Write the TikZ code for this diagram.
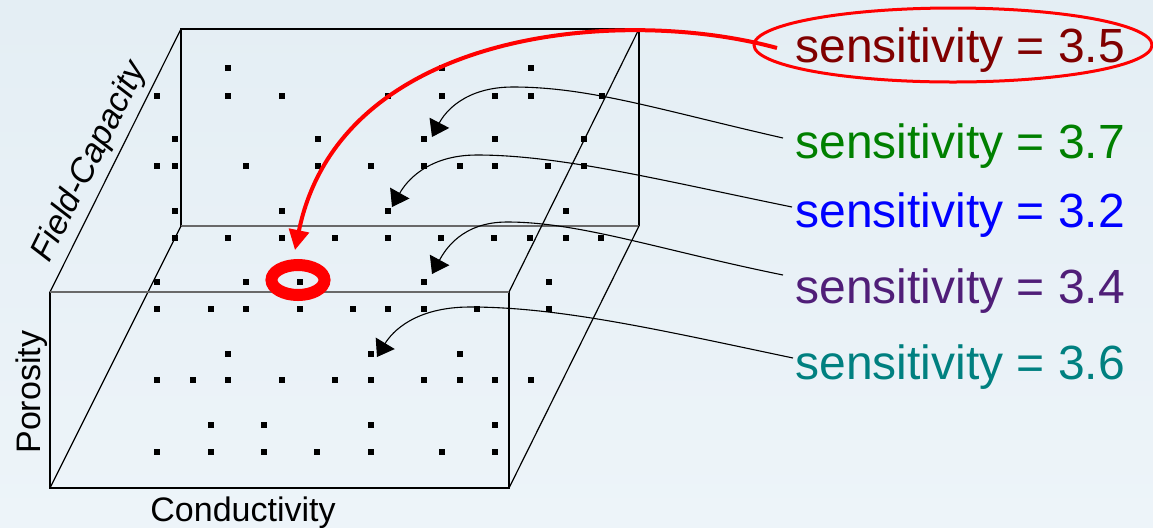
\documentclass[tikz,border=0pt]{standalone}
\usepackage{fontspec}
\setmainfont{Liberation Sans}
\usetikzlibrary{arrows.meta}
\definecolor{bgtop}{RGB}{228,238,244}
\definecolor{bgbot}{RGB}{237,244,249}
\definecolor{sdarkred}{RGB}{128,0,0}
\definecolor{sgreen}{RGB}{0,128,0}
\definecolor{sblue}{RGB}{0,0,255}
\definecolor{spurple}{RGB}{80,30,120}
\definecolor{steal}{RGB}{0,128,128}
\definecolor{edgegray}{RGB}{105,105,105}
\begin{document}
\begin{tikzpicture}[x=0.5pt,y=-0.5pt,
  edge/.style={black, line width=0.6pt},
  softedge/.style={edgegray, line width=1pt},
  lbl/.style={anchor=base west, inner sep=0pt, font=\fontsize{24}{28}\selectfont},
  axislbl/.style={inner sep=0pt, font=\fontsize{17}{20}\selectfont},
  pointer/.style={black, line width=0.55pt, -{Triangle[length=8pt,width=11pt]}},
  redpointer/.style={red, line width=2pt, -{Triangle[length=10pt,width=10pt]}},
  ring/.style={red, line width=6pt},
  halo/.style={red, line width=1.5pt}
]
% background and frame
\useasboundingbox (0,0) rectangle (1153,527);
\shade[top color=bgtop, bottom color=bgbot] (0,0) rectangle (1153,527);

% box corners
\coordinate (FTL) at (50,292);
\coordinate (FTR) at (509,292);
\coordinate (FBL) at (50,488);
\coordinate (FBR) at (509,488);
\coordinate (BTL) at (181,29);
\coordinate (BTR) at (639,29);
\coordinate (BBL) at (181,226);
\coordinate (BBR) at (639,226);

% back face
\draw[edge] (BBL) -- (BTL) -- (BTR) -- (BBR);
\draw[softedge] (BBL) -- (BBR);
% connecting edges
\draw[edge] (FTL) -- (BTL);
\draw[edge] (FBL) -- (BBL);
\draw[edge] (FTR) -- (BTR);
\draw[edge] (FBR) -- (BBR);
% front face
\draw[edge] (FTL) -- (FBL) -- (FBR) -- (FTR);
\draw[softedge] (FTL) -- (FTR);

% sample points
\foreach \y/\xs in {
  68/{228,442,531},
  96/{157,228,282,388,442,495,531,602},
  139/{175,318,424,495,584},
  166/{157,175,246,318,371,424,460,495,548,584},
  211/{175,282,388,566},
  238/{175,228,282,335,388,441,494,530,566,601},
  282/{157,246,300,424,549},
  309/{157,211,246,300,353,388,424,477,549},
  354/{228,371,460},
  380/{157,193,228,282,335,371,424,460,495,531},
  425/{211,264,371,495},
  452/{157,211,264,317,371,442,495}}
{
  \foreach \x in \xs {\fill[black] (\x-3.3,\y-3.3) rectangle (\x+3.3,\y+3.3);}
}

% labels
\node[lbl, text=sdarkred] (l35) at (795,62) {sensitivity = 3.5};
\node[lbl, text=sgreen]   (l37) at (795,158) {sensitivity = 3.7};
\node[lbl, text=sblue]    (l32) at (795,227) {sensitivity = 3.2};
\node[lbl, text=spurple]  (l34) at (795,303) {sensitivity = 3.4};
\node[lbl, text=steal]    (l36) at (795,379) {sensitivity = 3.6};

% axis labels
\node[axislbl, anchor=base west] (cond) at (150,521) {Conductivity};
\node[axislbl, anchor=base west, rotate=90] (poro) at (40,454) {Porosity};
\node[axislbl, rotate=63.5, font=\fontsize{17}{20}\selectfont\itshape] (fc) at (90,162) {Field-Capacity};

% pointer ends
\coordinate (s37) at (783,138);
\coordinate (t37) at (432,137);
\coordinate (s32) at (792,207);
\coordinate (t32) at (392,207);
\coordinate (s34) at (783,275);
\coordinate (t34) at (432,274);
\coordinate (s36) at (793,358);
\coordinate (t36) at (377,357);

\draw[pointer] (s37) .. controls (660,110) and (590,87) .. (513,87)
               .. controls (465,87) and (445,112) .. (t37);
\draw[pointer] (s32) .. controls (660,180) and (560,155) .. (477,155)
               .. controls (427,155) and (406,182) .. (t32);
\draw[pointer] (s34) .. controls (660,250) and (580,222) .. (507,222)
               .. controls (462,222) and (445,250) .. (t34);
\draw[pointer] (s36) .. controls (660,330) and (560,307) .. (470,307)
               .. controls (415,307) and (392,332) .. (t36);

% highlighted result
\coordinate (hit) at (298,280);
\coordinate (r0) at (777,48);
\coordinate (rtip) at (295,250);
\draw[ring] (hit) ellipse [x radius=13.25pt, y radius=7.5pt];
\draw[halo] (953,45) ellipse [x radius=99.5pt, y radius=18.5pt];
\draw[redpointer] (r0) .. controls (620,5) and (340,30) .. (rtip);
\end{tikzpicture}
\end{document}
